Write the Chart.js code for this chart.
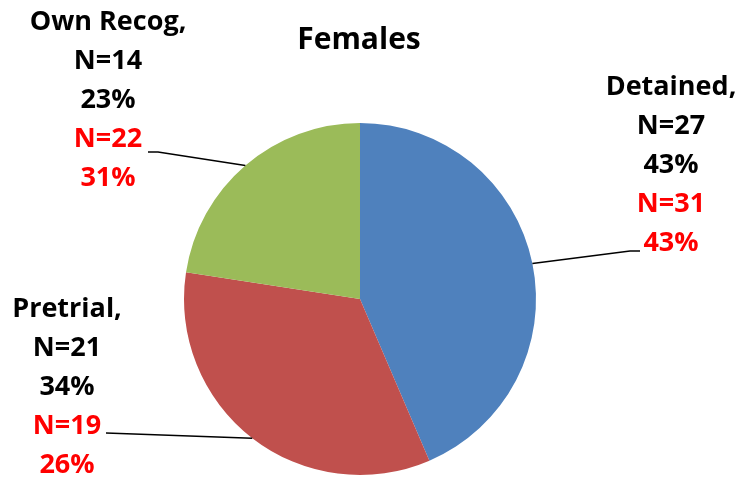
<!DOCTYPE html>
<html>
<head>
<meta charset="utf-8">
<script src="https://cdn.jsdelivr.net/npm/chart.js@4/dist/chart.umd.min.js"></script>
<style>
html,body{margin:0;padding:0;background:#fff;}
#wrap{width:738px;height:477px;position:relative;}
</style>
</head>
<body>
<div id="wrap"><canvas id="c" width="738" height="477"></canvas></div>
<script>
const titleText = "Females";
const categories = ["Detained", "Pretrial", "Own Recog"];
const counts = [27, 21, 14];
const percents = ["43%", "34%", "23%"];
const compareCounts = [31, 19, 22];
const comparePercents = ["43%", "26%", "31%"];
const sliceColors = ["#4F81BD", "#C0504D", "#9BBB59"];

// label anchor layout (text centre x, first line baseline y, leader end x/y)
const labelLayout = [
  {x: 671, y: 95, lx: 640, ly: 251, hx: 630},
  {x: 67, y: 317, lx: 106, ly: 433, hx: 106},
  {x: 108, y: 30, lx: 148, ly: 152, hx: 158}
];
const lineGap = 39;
const fontFam = "'Open Sans', sans-serif";

const labelPlugin = {
  id: 'pieLabels',
  afterDraw(chart) {
    const ctx = chart.ctx;
    const meta = chart.getDatasetMeta(0);
    ctx.save();
    ctx.fillStyle = '#000';
    ctx.font = "bold 30px " + fontFam;
    ctx.textAlign = 'center';
    ctx.textBaseline = 'alphabetic';
    ctx.fillText(titleText, 359, 49);
    meta.data.forEach((arc, i) => {
      const p = arc.getProps(['x','y','startAngle','endAngle','outerRadius'], true);
      const mid = (p.startAngle + p.endAngle) / 2;
      const sx = p.x + Math.cos(mid) * p.outerRadius;
      const sy = p.y + Math.sin(mid) * p.outerRadius;
      const L = labelLayout[i];
      ctx.strokeStyle = '#000';
      ctx.lineWidth = 1.5;
      ctx.beginPath();
      ctx.moveTo(sx, sy);
      ctx.lineTo(L.hx, L.ly);
      ctx.lineTo(L.lx, L.ly);
      ctx.stroke();
      const lines = [
        [categories[i] + ",", '#000'],
        ["N=" + counts[i], '#000'],
        [percents[i], '#000'],
        ["N=" + compareCounts[i], '#FF0000'],
        [comparePercents[i], '#FF0000']
      ];
      ctx.font = "bold 27px " + fontFam;
      lines.forEach((ln, k) => {
        ctx.fillStyle = ln[1];
        ctx.fillText(ln[0], L.x, L.y + k * lineGap);
      });
    });
    ctx.restore();
  }
};

new Chart(document.getElementById('c'), {
  type: 'pie',
  data: {
    labels: categories,
    datasets: [{
      data: counts,
      backgroundColor: sliceColors,
      borderWidth: 0,
      hoverOffset: 0
    }]
  },
  options: {
    responsive: false,
    animation: false,
    layout: { padding: { left: 184, right: 202, top: 123, bottom: 2 } },
    plugins: {
      legend: { display: false },
      title: { display: false },
      tooltip: { enabled: false }
    }
  },
  plugins: [labelPlugin]
});
</script>
</body>
</html>
